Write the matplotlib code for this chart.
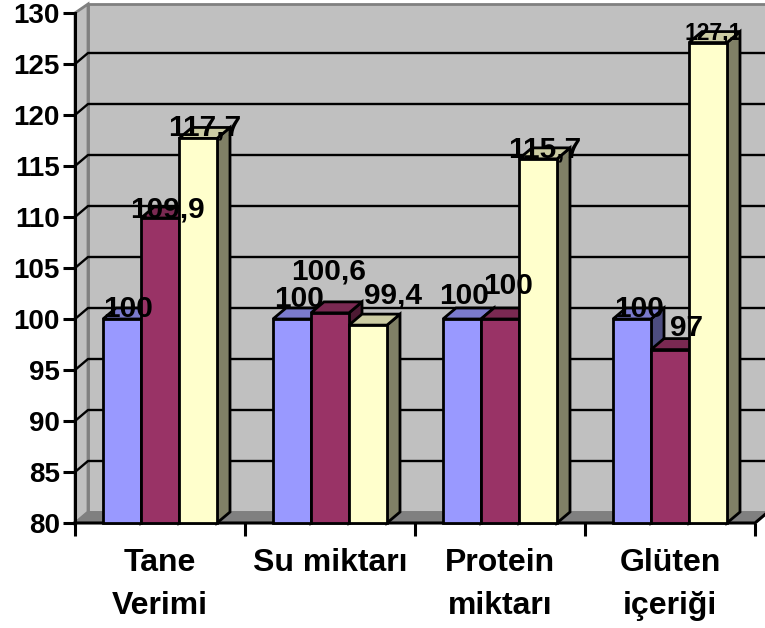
import matplotlib
matplotlib.use("Agg")
import matplotlib.pyplot as plt
from matplotlib.patches import Polygon

plt.rcParams['font.family'] = ['Liberation Sans', 'DejaVu Sans']
plt.rcParams['font.weight'] = 'bold'

categories = ['Tane\nVerimi', 'Su miktarı', 'Protein\nmiktarı', 'Glüten\niçeriği']
series_a = [100, 100, 100, 100]
series_b = [109.9, 100.6, 100, 97]
series_c = [117.7, 99.4, 115.7, 127.1]
value_ticks = list(range(80, 135, 5))

front_colors = ['#9999FF', '#993366', '#FFFFCC']
top_colors = ['#7A7ACC', '#7A2952', '#CCCCA3']
side_colors = ['#4D4D80', '#4D1A33', '#808066']

W, H = 765, 628
# px per unit: 170 per category, 10.2 per value
dx = 13 / 170
dy = 11 / 10.2
bar_w = 38 / 170
bar_start = 28 / 170

# label nudges in px from the top of each bar (series, then category)
nudge_a = [(6, 10), (7, 20), (2, 23), (7, 10)]
nudge_b = [(7, 9), (-1, 41), (8, 33), (17, 22)]
nudge_c = [(7, 11), (25, 30), (7, 9), (5, 10)]

fig = plt.figure(figsize=(W / 100, H / 100), dpi=100)
ax = fig.add_axes([75 / W, 1 - 523 / H, 680 / W, 510 / H])
ax.set_xlim(0, 4)
ax.set_ylim(80, 130)
for s in ax.spines.values():
    s.set_visible(False)

# walls
xr = 4 + dx
ax.add_patch(Polygon([(dx, 80 + dy), (xr, 80 + dy), (xr, 130 + dy - 0.2), (dx, 130 + dy - 0.2)],
                     fc='#C0C0C0', ec='#808080', lw=2, clip_on=False, zorder=1))
ax.add_patch(Polygon([(0, 80), (dx, 80 + dy), (dx, 130 + dy - 0.2), (0, 130)],
                     fc='#C0C0C0', ec='#808080', lw=2, clip_on=False, zorder=1))
ax.add_patch(Polygon([(0, 80), (4, 80), (xr, 80 + dy), (dx, 80 + dy)],
                     fc='#808080', ec='#808080', lw=1, clip_on=False, zorder=1))

# gridlines on the back and left walls
for v in value_ticks[1:-1]:
    ax.plot([0, dx, xr], [v, v + dy, v + dy], color='black', lw=1.7, clip_on=False, zorder=2)
ax.plot([0, 0], [80, 130], color='black', lw=2.2, clip_on=False, zorder=3)
ax.plot([0, 4, xr], [80, 80, 80 + dy], color='black', lw=2.2, clip_on=False, zorder=3)

all_series = [series_a, series_b, series_c]
all_nudges = [nudge_a, nudge_b, nudge_c]
for c in range(len(categories)):
    for s, vals in enumerate(all_series):
        x0 = c + bar_start + s * bar_w
        x1 = x0 + bar_w
        v = vals[c]
        z = 4 + c * 3 + s * 0.1
        ax.add_patch(Polygon([(x1, 80), (x1 + dx, 80 + dy), (x1 + dx, v + dy), (x1, v)],
                             fc=side_colors[s], ec='black', lw=2, zorder=z, clip_on=False))
        ax.add_patch(Polygon([(x0, v), (x0 + dx, v + dy), (x1 + dx, v + dy), (x1, v)],
                             fc=top_colors[s], ec='black', lw=2, zorder=z, clip_on=False))
        ax.add_patch(Polygon([(x0, 80), (x1, 80), (x1, v), (x0, v)],
                             fc=front_colors[s], ec='black', lw=2, zorder=z, clip_on=False))

for s, vals in enumerate(all_series):
    for c, v in enumerate(vals):
        nx, ny = all_nudges[s][c]
        xc = c + bar_start + (s + 0.5) * bar_w + nx / 170
        size = 16.5 if v == 127.1 else 21.5
        ax.text(xc, v + ny / 10.2, str(v).replace('.', ','), ha='center', va='center',
                fontsize=size, fontweight='bold', color='black', zorder=40, clip_on=False)

ax.set_yticks(value_ticks)
ax.tick_params(axis='y', length=9, width=2.2, pad=2, labelsize=20, color='black')
ax.set_xticks(range(5))
ax.set_xticklabels([])
ax.set_xticks([i + 0.5 for i in range(4)], minor=True)
ax.set_xticklabels(categories, minor=True, fontsize=23, fontweight='bold', linespacing=1.55, va='top')
ax.tick_params(axis='x', which='major', length=9, width=2.2)
ax.tick_params(axis='x', which='minor', length=0, pad=18)

fig.savefig('out.png', dpi=100)
